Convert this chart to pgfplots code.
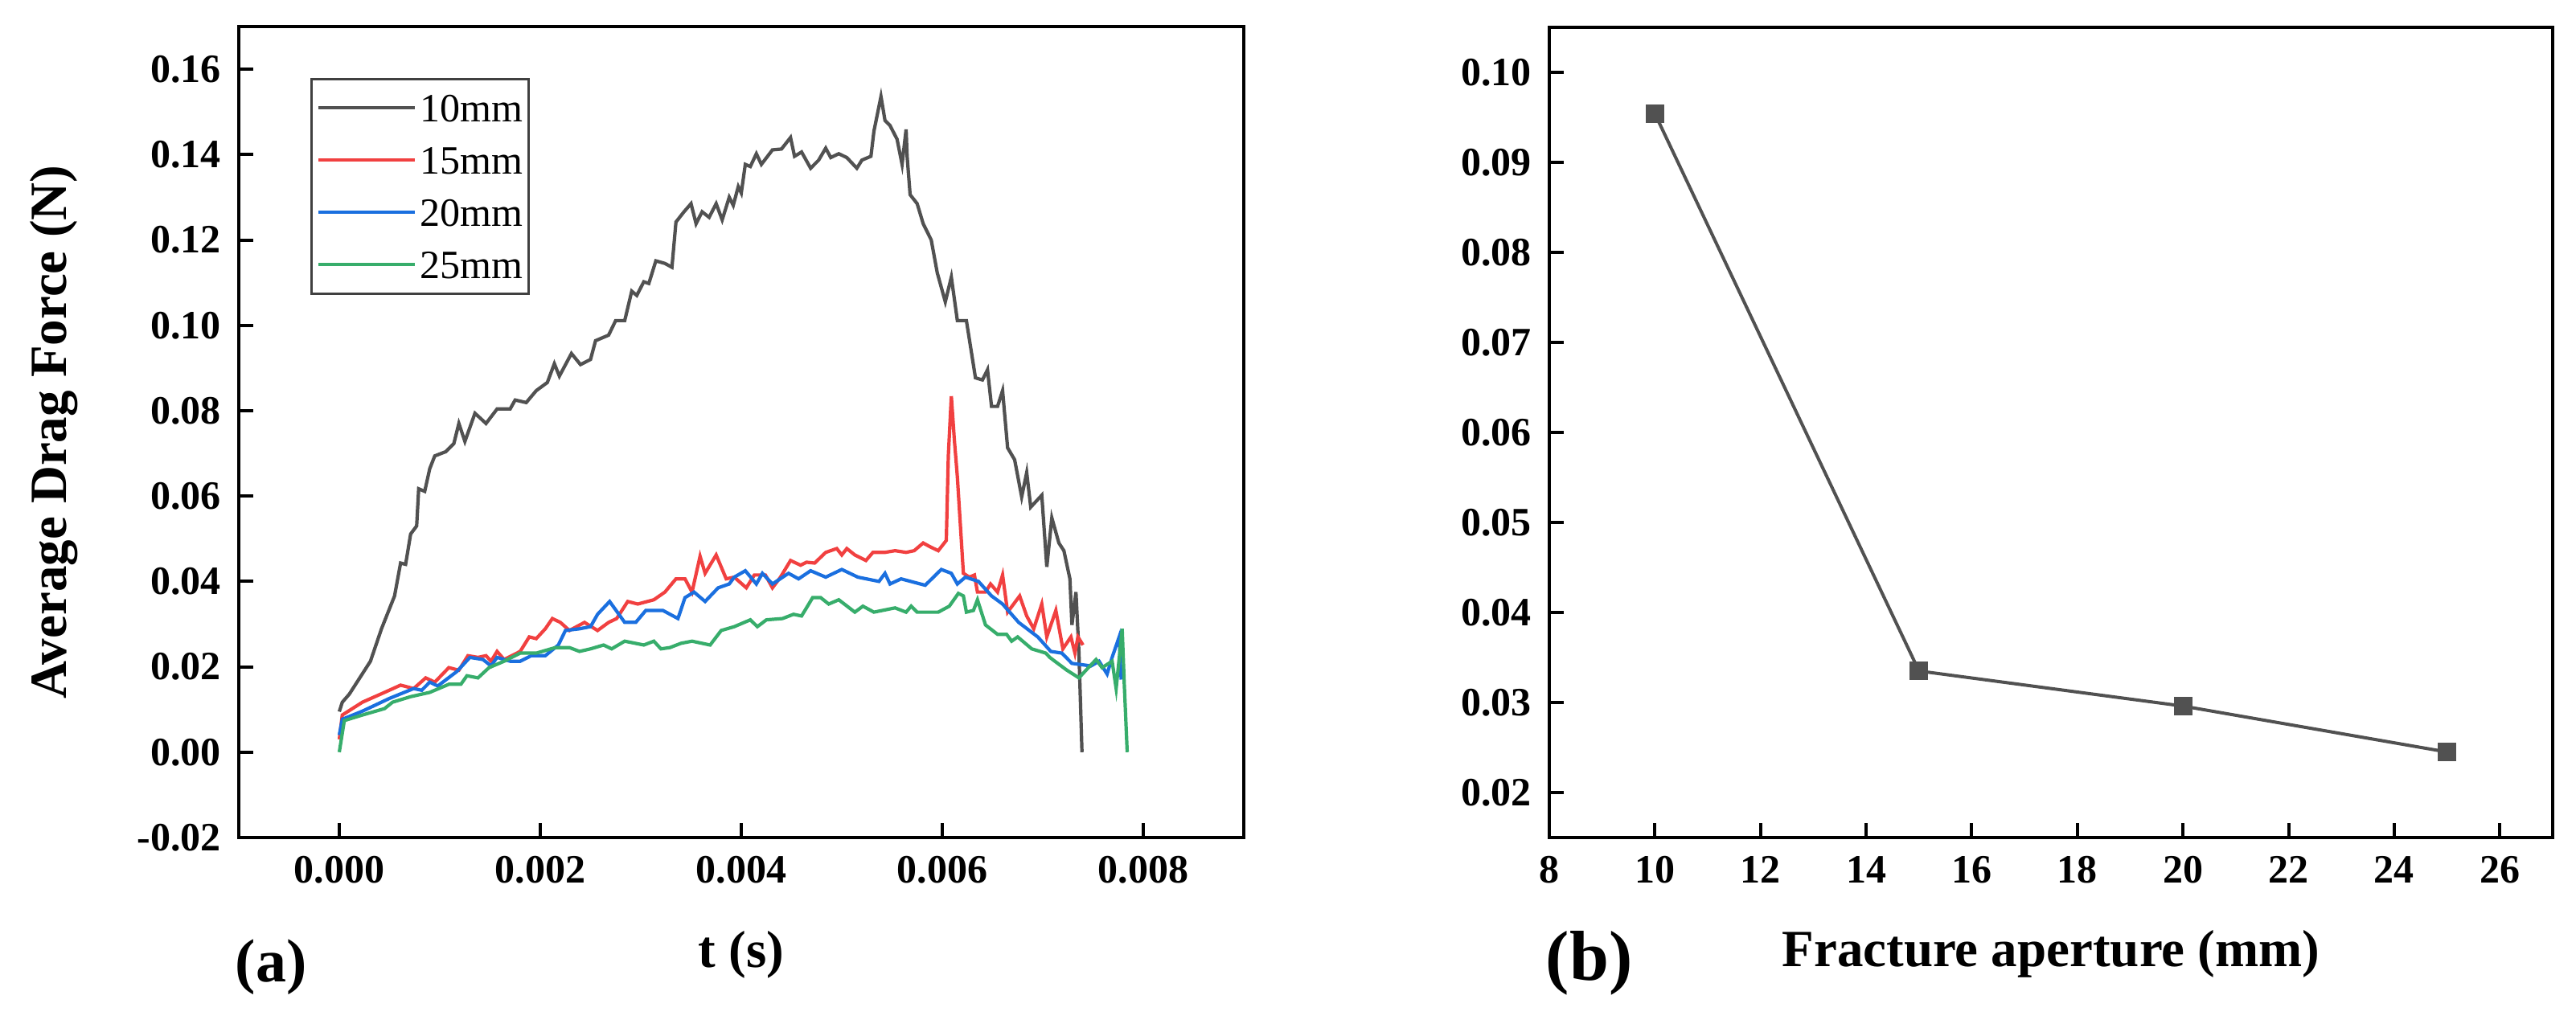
\documentclass[border=0pt]{standalone}
\usepackage{fontspec}
\setmainfont{Liberation Serif}
\usepackage{pgfplots}
\pgfplotsset{compat=1.18}
\definecolor{cgray}{HTML}{515151}
\definecolor{cred}{HTML}{F14040}
\definecolor{cblue}{HTML}{1A6FDF}
\definecolor{cgreen}{HTML}{37AD6B}
\begin{document}
\begin{tikzpicture}
\path[use as bounding box] (0,0) rectangle (801pt,318.5pt);
\pgfplotsset{common/.style={
  scale only axis,
  axis line style={line width=1pt, black},
  major tick style={line width=1pt, black},
  major tick length=4.5pt,
  tick align=inside,
  tick pos=left,
  ticklabel style={font=\bfseries\fontsize{12.5}{15}\selectfont},
  yticklabel style={xshift=-2pt},
  xticklabel style={yshift=-2.3pt},
  /pgf/number format/assume math mode=true,
  label style={font=\bfseries\fontsize{16.25}{19}\selectfont},
}}
\begin{axis}[common,
  at={(74.25pt,58pt)}, anchor=south west,
  width=312.5pt, height=252.25pt,
  xmin=-0.001, xmax=0.009, ymin=-0.02, ymax=0.17,
  xtick={0,0.002,0.004,0.006,0.008},
  xticklabels={0.000,0.002,0.004,0.006,0.008},
  ytick={-0.02,0,0.02,0.04,0.06,0.08,0.10,0.12,0.14,0.16},
  yticklabels={-0.02,0.00,0.02,0.04,0.06,0.08,0.10,0.12,0.14,0.16},
  scaled x ticks=false, scaled y ticks=false,
  xlabel={t (s)},
  xlabel style={at={(axis description cs:0.5,-0.1596)}, anchor=base},
  ylabel={Average Drag Force (N)},
  ylabel style={at={(axis description cs:-0.1712,0.5)}, anchor=base, rotate=0},
  legend style={
    at={(axis description cs:0.0712,0.9366)}, anchor=north west,
    draw=black!75, line width=0.7pt,
    inner xsep=1.75pt, inner ysep=4.75pt,
    font=\fontsize{12.5}{15}\selectfont,
    row sep=7.75pt,
    nodes={inner sep=0pt, text height=8.5pt, text depth=0pt},
    /tikz/every odd column/.append style={column sep=1pt},
  },
  legend cell align=left,
  legend image code/.code={\draw[#1, line width=1pt] (0pt,0pt) -- (30pt,0pt);},
]
\addplot[cgray, line width=1.05pt] coordinates {
(0,0.0095) (0.00003,0.0117) (0.0001,0.0136) (0.00031,0.0213) (0.00042,0.0289) (0.00055,0.0366) (0.00061,0.0443) (0.00066,0.044) (0.00071,0.0511) (0.00077,0.053) (0.00079,0.0617) (0.00085,0.0611) (0.0009,0.0664) (0.00095,0.0694) (0.00106,0.0704) (0.00114,0.0723) (0.00119,0.077) (0.00125,0.0728) (0.00135,0.0794) (0.00146,0.077) (0.00157,0.0804) (0.0017,0.0804) (0.00175,0.0825) (0.00186,0.0819) (0.00196,0.0847) (0.00207,0.0866) (0.00214,0.091) (0.00219,0.0881) (0.00231,0.0934) (0.0024,0.0908) (0.0025,0.092) (0.00255,0.0964) (0.00268,0.0977) (0.00275,0.1011) (0.00284,0.1011) (0.00291,0.108) (0.00296,0.107) (0.00303,0.1102) (0.00308,0.1098) (0.00315,0.1151) (0.00324,0.1145) (0.00331,0.1136) (0.00335,0.1242) (0.00343,0.1266) (0.0035,0.1285) (0.00355,0.1238) (0.00361,0.1266) (0.00368,0.1253) (0.00375,0.1285) (0.00381,0.1247) (0.00388,0.13) (0.00392,0.1281) (0.00397,0.1325) (0.004,0.131) (0.00404,0.1377) (0.00409,0.1372) (0.00415,0.1402) (0.0042,0.1377) (0.00431,0.1411) (0.0044,0.1413) (0.00449,0.144) (0.00453,0.1396) (0.0046,0.1406) (0.00469,0.1368) (0.00477,0.1387) (0.00484,0.1415) (0.00489,0.1393) (0.00497,0.1402) (0.00505,0.1393) (0.00515,0.1368) (0.0052,0.1387) (0.00529,0.1396) (0.00532,0.1455) (0.00539,0.1536) (0.00543,0.148) (0.00548,0.1468) (0.00555,0.1436) (0.0056,0.1377) (0.00564,0.1459) (0.00565,0.1396) (0.00568,0.1306) (0.00575,0.1285) (0.00581,0.1238) (0.00589,0.12) (0.00595,0.1123) (0.00603,0.1055) (0.00609,0.1113) (0.00615,0.1011) (0.00624,0.1011) (0.00633,0.0877) (0.0064,0.0872) (0.00645,0.0896) (0.00649,0.081) (0.00655,0.081) (0.0066,0.0847) (0.00665,0.0713) (0.00672,0.0685) (0.00679,0.0598) (0.00684,0.0655) (0.00688,0.0574) (0.00699,0.0602) (0.00704,0.0434) (0.00709,0.0549) (0.00716,0.049) (0.00721,0.0472) (0.00727,0.0406) (0.00729,0.0298) (0.00733,0.0375) (0.00736,0.0232) (0.00739,0.0)
};
\addlegendentry{10mm}
\addplot[cred, line width=1.05pt] coordinates {
(0,0.003) (0.00003,0.0087) (0.00023,0.0117) (0.00045,0.014) (0.00061,0.0157) (0.00074,0.0149) (0.00086,0.0174) (0.00095,0.0164) (0.00109,0.0198) (0.00119,0.0192) (0.00128,0.0226) (0.00138,0.0222) (0.00146,0.0226) (0.00151,0.0213) (0.00157,0.0236) (0.00164,0.0217) (0.0018,0.0236) (0.00189,0.027) (0.00196,0.0266) (0.00205,0.0289) (0.00212,0.0313) (0.0022,0.0304) (0.00229,0.0285) (0.00244,0.0304) (0.00257,0.0285) (0.00268,0.0304) (0.00276,0.0313) (0.00287,0.0353) (0.00297,0.0347) (0.00313,0.0357) (0.00324,0.0375) (0.00335,0.0406) (0.00344,0.0406) (0.00351,0.0375) (0.00359,0.0459) (0.00364,0.0419) (0.00375,0.0462) (0.00385,0.0406) (0.00393,0.041) (0.00405,0.0385) (0.00413,0.0415) (0.00424,0.0415) (0.00431,0.0385) (0.00439,0.041) (0.00449,0.0449) (0.00459,0.0438) (0.00465,0.0445) (0.00473,0.0443) (0.00484,0.0468) (0.00495,0.0477) (0.005,0.0462) (0.00505,0.0477) (0.00513,0.0462) (0.00524,0.0449) (0.00531,0.0468) (0.00543,0.0468) (0.00553,0.0472) (0.00564,0.0468) (0.00572,0.0472) (0.00581,0.049) (0.00588,0.0481) (0.00596,0.0472) (0.00604,0.0496) (0.00606,0.0694) (0.00609,0.0834) (0.00612,0.0732) (0.00615,0.0645) (0.00621,0.0419) (0.00627,0.041) (0.00632,0.0415) (0.00635,0.0375) (0.00643,0.0375) (0.00648,0.0394) (0.00655,0.0375) (0.0066,0.0415) (0.00665,0.0328) (0.00671,0.0347) (0.00677,0.0366) (0.00684,0.0319) (0.00691,0.0289) (0.00699,0.0347) (0.00704,0.027) (0.00713,0.0332) (0.0072,0.0242) (0.00728,0.027) (0.00732,0.0232) (0.00735,0.027) (0.0074,0.0251)
};
\addlegendentry{15mm}
\addplot[cblue, line width=1.05pt] coordinates {
(0,0.004) (0.00003,0.0077) (0.00023,0.0096) (0.0005,0.0126) (0.00074,0.0149) (0.00082,0.0145) (0.0009,0.0164) (0.00098,0.0155) (0.00117,0.0189) (0.0013,0.0222) (0.00143,0.0217) (0.00151,0.0202) (0.00157,0.0222) (0.0017,0.0213) (0.0018,0.0213) (0.00191,0.0226) (0.00205,0.0226) (0.00218,0.0251) (0.00225,0.0285) (0.00239,0.0289) (0.0025,0.0294) (0.00257,0.0323) (0.00269,0.0353) (0.00284,0.0304) (0.00295,0.0304) (0.00305,0.0332) (0.00322,0.0332) (0.00337,0.0313) (0.00344,0.0362) (0.00353,0.0375) (0.00364,0.0353) (0.00377,0.0385) (0.00388,0.0394) (0.00393,0.041) (0.00404,0.0425) (0.00415,0.0394) (0.00421,0.0419) (0.00431,0.0394) (0.00447,0.0419) (0.00457,0.0406) (0.00469,0.0425) (0.00484,0.041) (0.005,0.0428) (0.00516,0.041) (0.00537,0.04) (0.00543,0.0419) (0.00548,0.0394) (0.00559,0.0406) (0.00583,0.0391) (0.00599,0.0428) (0.00609,0.0419) (0.00615,0.0394) (0.00623,0.041) (0.00636,0.04) (0.00649,0.0366) (0.0066,0.0347) (0.00676,0.0304) (0.00695,0.027) (0.00708,0.0236) (0.00719,0.0232) (0.00729,0.0208) (0.00748,0.0202) (0.00756,0.0213) (0.00764,0.0183) (0.00769,0.0222) (0.00776,0.027) (0.00778,0.017)
};
\addlegendentry{20mm}
\addplot[cgreen, line width=1.05pt] coordinates {
(0,0) (0.00005,0.0074) (0.00023,0.0087) (0.00045,0.0102) (0.00053,0.0117) (0.00071,0.013) (0.0009,0.014) (0.00109,0.0159) (0.00121,0.0159) (0.00127,0.0179) (0.00138,0.0174) (0.00149,0.0198) (0.00164,0.0213) (0.0018,0.0232) (0.00196,0.0232) (0.00215,0.0245) (0.00229,0.0245) (0.00239,0.0236) (0.0025,0.0242) (0.00263,0.0251) (0.00271,0.0242) (0.00284,0.026) (0.00303,0.0251) (0.00313,0.026) (0.0032,0.0242) (0.00329,0.0245) (0.0034,0.0255) (0.00351,0.026) (0.00369,0.0251) (0.0038,0.0285) (0.00393,0.0294) (0.00409,0.031) (0.00416,0.0294) (0.00425,0.031) (0.00441,0.0313) (0.00452,0.0323) (0.0046,0.0319) (0.00471,0.0362) (0.00479,0.0362) (0.00487,0.0347) (0.00497,0.0357) (0.00513,0.0328) (0.00521,0.0342) (0.00532,0.0328) (0.00553,0.0338) (0.00564,0.0328) (0.00569,0.0342) (0.00575,0.0328) (0.00596,0.0328) (0.00607,0.0342) (0.00616,0.0372) (0.00621,0.0366) (0.00624,0.0328) (0.00631,0.0332) (0.00635,0.0357) (0.00643,0.0298) (0.00655,0.0276) (0.00664,0.0276) (0.00669,0.026) (0.00675,0.027) (0.00689,0.0242) (0.00703,0.0232) (0.00707,0.0222) (0.00712,0.0213) (0.00724,0.0192) (0.00736,0.0174) (0.00743,0.0192) (0.00753,0.0217) (0.00759,0.0198) (0.00769,0.0213) (0.00773,0.0149) (0.00779,0.0289) (0.00781,0.0164) (0.00784,0.0)
};
\addlegendentry{25mm}
\end{axis}

\begin{axis}[common,
  at={(481.75pt,58pt)}, anchor=south west,
  width=312pt, height=252pt,
  xmin=8, xmax=27, ymin=0.015, ymax=0.105,
  xtick={8,10,12,14,16,18,20,22,24,26},
  ytick={0.02,0.03,0.04,0.05,0.06,0.07,0.08,0.09,0.10},
  yticklabels={0.02,0.03,0.04,0.05,0.06,0.07,0.08,0.09,0.10},
  scaled y ticks=false,
  xlabel={Fracture aperture (mm)},
  xlabel style={at={(axis description cs:0.5,-0.1597)}, anchor=base},
]
\addplot[cgray, line width=1pt, mark=square*, mark size=2.75pt, mark options={fill=cgray, draw=cgray, line width=0pt}] coordinates {
(10,0.0954) (15,0.0335) (20,0.0296) (25,0.0245)
};
\end{axis}

\node[anchor=base west, inner sep=0pt, font=\bfseries\fontsize{19}{22}\selectfont] at (73pt,13pt) {(a)};
\node[anchor=base west, inner sep=0pt, font=\bfseries\fontsize{22}{26}\selectfont] at (480.5pt,13.5pt) {(b)};
\end{tikzpicture}
\end{document}
